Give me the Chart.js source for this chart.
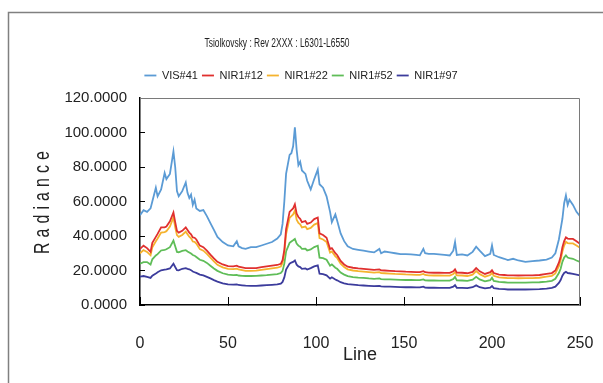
<!DOCTYPE html>
<html lang="en">
<head>
    <meta charset="UTF-8">
    <title>Tsiolkovsky Radiance</title>
    <script src="https://cdn.jsdelivr.net/npm/chart.js"></script>
    <style>
        body { margin: 0; background: #fff; }
        canvas { display: block; }
    </style>
</head>
<body>
    <canvas id="radChart" width="603" height="383"></canvas>
    <script>
        // Datos
        const chartTitle = 'Tsiolkovsky : Rev 2XXX : L6301-L6550';
        const seriesNames = ['VIS#41', 'NIR1#12', 'NIR1#22', 'NIR1#52', 'NIR1#97'];
        const seriesColors = ['#5b9bd5', '#e0302f', '#f5b32e', '#5fbd58', '#3c3c9c'];
        const yTickLabels = ['0.0000', '20.0000', '40.0000', '60.0000', '80.0000', '100.0000', '120.0000'];

        const lines = [
            0, 2, 4, 6, 7, 9, 10, 12, 14, 15,
            17, 19, 20, 21, 22, 24, 26, 27, 28, 29,
            30, 31, 32, 34, 36, 38, 40, 42, 44, 47,
            50, 53, 55, 56, 58, 60, 63, 66, 69, 72,
            75, 78, 80, 81, 82, 83, 85, 86, 87, 88,
            89, 90, 91, 92, 94, 95, 97, 99, 101, 102,
            104, 106, 108, 109, 111, 112, 114, 116, 118, 121,
            124, 127, 130, 133, 136, 137, 139, 142, 145, 148,
            151, 154, 157, 159, 161, 162, 164, 167, 170, 173,
            176, 178, 179, 180, 183, 186, 189, 191, 193, 196,
            199, 200, 201, 204, 207, 209, 212, 215, 219, 223,
            227, 231, 234, 236, 238, 239, 240, 241, 242, 243,
            244, 246, 248, 250
        ];

        const vis41 = [
            52, 55, 54, 56, 60, 68, 63, 67, 76.5, 73,
            76, 89, 80, 66, 63, 66, 71, 65, 62, 64,
            58, 61, 56, 54.5, 55, 51.5, 47.5, 43.5, 39.5, 36.5,
            34.5, 34, 37, 34, 33, 32.5, 33.5, 33.5, 34.5, 35.5,
            36.5, 38.5, 41, 47, 60, 76, 87, 88, 92, 103,
            90, 81, 83, 78, 76, 72, 67, 73, 78.5, 70,
            68, 63, 54, 48, 52.5, 49, 41.5, 37, 34, 32.5,
            32, 31.5, 31, 30.5, 32.5, 30, 31, 30.5, 30, 29.5,
            29.5, 29.3, 29, 28.8, 32.5, 30, 29.6, 29.6, 29.3, 29,
            28.7, 31.5, 36.5, 29, 29.3, 28.7, 30.8, 33.8, 31.5, 28.3,
            29.6, 34.5, 29, 27.7, 26.8, 26, 26.8, 25.8, 25, 25.4,
            25.8, 26.3, 27.5, 30, 38, 44, 50, 59, 63.5, 58,
            61, 58, 54, 51.5
        ];

        const nir12 = [
            32.5, 34.4, 33, 30.8, 36, 39.5, 41.2, 45, 45, 45.5,
            48.5, 53.6, 48, 43, 42, 43, 45, 43.5, 42, 41,
            39.2, 39, 38, 34.4, 33.5, 31.5, 29.2, 27, 25, 23.5,
            22.5, 22.4, 22.8, 22.2, 21.8, 21.4, 21.4, 21.4, 22, 22.4,
            22.8, 23.2, 23.9, 26, 32, 44, 54, 55, 56, 58.4,
            53, 51, 50, 48, 48.7, 47, 47.8, 49.8, 50.7, 41.5,
            40.6, 39, 32.5, 33, 30, 29, 25.5, 23.5, 22.2, 21.6,
            21.2, 21, 20.7, 20.4, 20.6, 20.1, 20, 19.8, 19.6, 19.5,
            19.3, 19.2, 19.1, 19.1, 19.6, 19, 18.8, 18.7, 18.7, 18.6,
            18.6, 19.5, 20.7, 18.8, 18.7, 18.4, 19.2, 21.4, 19.5, 18,
            19, 20.1, 18.5, 17.6, 17.4, 17.2, 17.2, 17.1, 17.2, 17.2,
            17.4, 18, 18.5, 20, 24.5, 28, 33.5, 37, 39.2, 38.5,
            38.3, 38.3, 37, 35.5
        ];

        const nir22 = [
            30, 31.8, 30.8, 28.8, 33.5, 37, 38.6, 42, 42.3, 42.8,
            45.5, 50.8, 45, 40.5, 39.5, 40.6, 42.5, 41, 39.6, 38.6,
            36.8, 36.6, 35.6, 32.4, 31.5, 29.6, 27.4, 25.3, 23.3, 21.8,
            20.9, 20.8, 21.1, 20.6, 20.2, 19.8, 19.8, 19.9, 20.4, 20.8,
            21.2, 21.6, 22.3, 24.3, 30, 41, 50.5, 51.5, 52.5, 54.8,
            49.5, 47.6, 46.8, 45, 45.5, 44, 44.7, 46.6, 47.5, 38.8,
            38, 36.5, 30.4, 31, 28.2, 27.3, 24, 22, 20.7, 20,
            19.6, 19.4, 19.1, 18.8, 19, 18.5, 18.4, 18.2, 18, 17.9,
            17.7, 17.6, 17.5, 17.5, 18, 17.4, 17.2, 17.1, 17.1, 17,
            17, 17.9, 19.1, 17.2, 17.1, 16.8, 17.6, 19.7, 17.9, 16.4,
            17.4, 18.5, 16.9, 16, 15.8, 15.6, 15.6, 15.5, 15.6, 15.6,
            15.8, 16.4, 16.9, 18.3, 22.5, 26, 31, 34.5, 36.6, 35.9,
            35.7, 35.7, 34.5, 33.2
        ];

        const nir52 = [
            23.9, 24.8, 24.9, 23.5, 26.5, 28.7, 29.5, 31.6, 32, 32.3,
            33.5, 37.3, 34, 30.8, 30.6, 31.4, 31.8, 31, 30.4, 29.8,
            29, 28.6, 27.8, 26.2, 25.6, 24.4, 22.8, 21.2, 19.8, 18.4,
            17.6, 17.3, 17.4, 17.1, 16.9, 16.8, 16.8, 16.9, 17.1, 17.3,
            17.6, 17.9, 18.5, 19.8, 24, 31, 36, 36.8, 37.5, 38.3,
            35.6, 34.4, 33.8, 32.5, 32.6, 31.6, 32.2, 33.6, 34.4, 27.4,
            27.2, 26.2, 22.8, 23.5, 21.6, 21, 18.8, 17.6, 16.7, 16.2,
            15.9, 15.7, 15.4, 15.2, 15.4, 15, 14.9, 14.8, 14.7, 14.6,
            14.5, 14.5, 14.4, 14.4, 14.8, 14.3, 14.2, 14.2, 14.1, 14.1,
            14.1, 15, 16.3, 14.3, 14.2, 14, 14.7, 16.3, 14.8, 13.7,
            14.4, 15.8, 14, 13.4, 13.2, 13, 13, 13, 13, 13.1,
            13.2, 13.6, 14, 15.2, 18.5, 21, 25, 27.5, 28.7, 27.5,
            27.2, 26.8, 25.8, 24.9
        ];

        const nir97 = [
            16.5, 16.8, 16.3, 15.7, 17, 18.2, 19, 20.1, 20.5, 20.6,
            21.2, 23.9, 22, 20.2, 20.1, 21, 21.4, 21, 20.7, 20.2,
            19.4, 19, 18.6, 17.6, 17.2, 16.3, 15.4, 14.4, 13.6, 12.6,
            12, 11.8, 12, 11.6, 11.4, 11.2, 11.1, 11.1, 11.3, 11.5,
            11.7, 11.9, 12.4, 13.4, 16, 20.5, 24, 24.6, 25, 25.8,
            23.4, 22.4, 22, 21, 21.2, 20.6, 21.4, 22.4, 23, 18.2,
            17.9, 17.2, 15.3, 16.1, 14.8, 14.3, 13.2, 12.6, 12.1, 11.8,
            11.5, 11.3, 11.1, 10.9, 11.1, 10.8, 10.7, 10.6, 10.5, 10.4,
            10.3, 10.3, 10.2, 10.2, 10.6, 10.1, 10, 10, 9.9, 9.9,
            9.9, 10.6, 11.5, 10, 9.9, 9.8, 10.3, 11.4, 10.3, 9.6,
            10.1, 11, 9.8, 9.4, 9.2, 9, 9, 9, 9, 9.1,
            9.2, 9.5, 9.9, 10.6, 12.8, 14.5, 17, 18.6, 19.2, 18.5,
            18.4, 18, 17.6, 17.2
        ];

        const allSeries = [vis41, nir12, nir22, nir52, nir97];
        const fontFamily = "'Liberation Sans', Arial, sans-serif";

        // Marco exterior, borde del área del gráfico, título y etiqueta del eje Y
        const decorations = {
            id: 'decorations',
            beforeLayout(chart) {
                // deja un hueco bajo la leyenda
                const lg = chart.legend;
                if (lg && !lg.gapAdded) {
                    const fit = lg.fit.bind(lg);
                    lg.fit = function () { fit(); this.height += 7; };
                    lg.gapAdded = true;
                }
            },
            beforeDraw(chart) {
                const ctx = chart.ctx;
                ctx.save();
                ctx.fillStyle = '#fff';
                ctx.fillRect(0, 0, chart.width, chart.height);
                ctx.strokeStyle = '#808080';
                ctx.lineWidth = 1.5;
                ctx.beginPath();
                ctx.moveTo(8.5, chart.height);
                ctx.lineTo(8.5, 12.5);
                ctx.lineTo(chart.width, 12.5);
                ctx.stroke();
                ctx.restore();
            },
            afterDraw(chart) {
                const ctx = chart.ctx;
                const area = chart.chartArea;
                ctx.save();
                ctx.strokeStyle = '#7a7a7a';
                ctx.lineWidth = 1;
                ctx.beginPath();
                ctx.moveTo(area.left, area.top + 0.5);
                ctx.lineTo(area.right - 0.5, area.top + 0.5);
                ctx.lineTo(area.right - 0.5, area.bottom);
                ctx.stroke();

                ctx.fillStyle = '#222';
                ctx.font = '12px ' + fontFamily;
                ctx.textAlign = 'center';
                ctx.textBaseline = 'middle';
                ctx.fillText(chartTitle, 277, 44, 145);

                ctx.translate(43, 203);
                ctx.rotate(-Math.PI / 2);
                ctx.font = '22px ' + fontFamily;
                ctx.letterSpacing = '7px';
                ctx.fillText('Radiance', 3, 0, 108);
                ctx.restore();
            }
        };

        const ctx = document.getElementById('radChart').getContext('2d');
        new Chart(ctx, {
            type: 'line',
            data: {
                datasets: allSeries.map((vals, i) => ({
                    label: seriesNames[i],
                    data: lines.map((ln, j) => ({ x: ln, y: vals[j] })),
                    borderColor: seriesColors[i],
                    backgroundColor: seriesColors[i],
                    borderWidth: 1.8,
                    pointRadius: 0,
                    tension: 0
                }))
            },
            options: {
                responsive: false,
                animation: false,
                devicePixelRatio: 1,
                layout: {
                    padding: { top: 66, left: 22, right: 23, bottom: 0 }
                },
                plugins: {
                    legend: {
                        position: 'top',
                        labels: {
                            usePointStyle: true,
                            pointStyle: 'line',
                            pointStyleWidth: 12,
                            padding: 4,
                            color: '#222',
                            font: { family: fontFamily, size: 11 }
                        }
                    },
                    title: { display: false },
                    tooltip: { enabled: false }
                },
                scales: {
                    x: {
                        type: 'linear',
                        min: 0,
                        max: 250,
                        afterFit: (scale) => {
                            scale.height = 78;
                            scale.paddingLeft = 0;
                            scale.paddingRight = 0;
                        },
                        border: { display: true, color: '#000', width: 1.5 },
                        grid: { drawOnChartArea: false, drawTicks: true, tickLength: -8, color: '#000' },
                        ticks: {
                            stepSize: 50,
                            padding: 37,
                            color: '#222',
                            font: { family: fontFamily, size: 16 }
                        },
                        title: {
                            display: true,
                            text: 'Line',
                            color: '#222',
                            padding: { top: 0, bottom: 17 },
                            font: { family: fontFamily, size: 18 }
                        }
                    },
                    y: {
                        min: 0,
                        max: 120,
                        afterFit: (scale) => { scale.width = 118; },
                        border: { display: true, color: '#000', width: 1.5 },
                        grid: { drawOnChartArea: false, drawTicks: true, tickLength: -5, color: '#000' },
                        ticks: {
                            stepSize: 20,
                            padding: 18,
                            color: '#222',
                            font: { family: fontFamily, size: 15 },
                            callback: (value, index) => yTickLabels[index]
                        }
                    }
                }
            },
            plugins: [decorations]
        });
    </script>
</body>
</html>
